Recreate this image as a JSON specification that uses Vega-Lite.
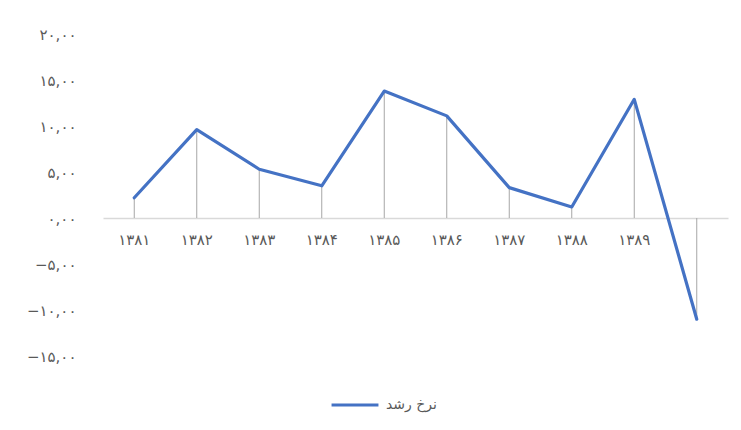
{
  "$schema": "https://vega.github.io/schema/vega-lite/v6.json",
  "autosize": {"type": "none"},
  "width": 625,
  "height": 322,
  "padding": {"left": 103, "top": 34, "right": 13, "bottom": 74},
  "background": "white",
  "config": {
    "view": {"stroke": null},
    "font": "DejaVu Sans"
  },
  "data": {
    "values": [
      {"year": "۱۳۸۱", "rate": 2.2},
      {"year": "۱۳۸۲", "rate": 9.6},
      {"year": "۱۳۸۳", "rate": 5.3},
      {"year": "۱۳۸۴", "rate": 3.5},
      {"year": "۱۳۸۵", "rate": 13.8},
      {"year": "۱۳۸۶", "rate": 11.1},
      {"year": "۱۳۸۷", "rate": 3.3},
      {"year": "۱۳۸۸", "rate": 1.2},
      {"year": "۱۳۸۹", "rate": 12.9},
      {"year": "۱۳۹۰", "rate": -11.0}
    ]
  },
  "encoding": {
    "x": {
      "field": "year",
      "type": "nominal",
      "sort": null,
      "scale": {"type": "band", "paddingInner": 0, "paddingOuter": 0},
      "axis": {
        "title": null,
        "orient": "bottom",
        "offset": -138,
        "labelAngle": 0,
        "ticks": false,
        "domainColor": "#d9d9d9",
        "domainWidth": 1.5,
        "labelColor": "#595959",
        "labelFontSize": 15,
        "labelPadding": 14,
        "labelExpr": "datum.label == '۱۳۹۰' ? '' : datum.label"
      }
    },
    "y": {
      "field": "rate",
      "type": "quantitative",
      "scale": {"domain": [-15, 20], "nice": false, "zero": false},
      "axis": {
        "title": null,
        "grid": false,
        "domain": false,
        "ticks": false,
        "values": [-15, -10, -5, 0, 5, 10, 15, 20],
        "labelColor": "#595959",
        "labelFontSize": 15,
        "labelPadding": 27,
        "labelExpr": "datum.value == 20 ? '۲۰,۰۰' : datum.value == 15 ? '۱۵,۰۰' : datum.value == 10 ? '۱۰,۰۰' : datum.value == 5 ? '۵,۰۰' : datum.value == 0 ? '۰,۰۰' : datum.value == -5 ? '−۵,۰۰' : datum.value == -10 ? '−۱۰,۰۰' : '−۱۵,۰۰'"
      }
    }
  },
  "layer": [
    {
      "mark": {"type": "rule", "color": "#a6a6a6", "strokeWidth": 1},
      "encoding": {"y2": {"datum": 0}}
    },
    {
      "mark": {"type": "line", "strokeWidth": 3.2, "strokeJoin": "round", "strokeCap": "round"},
      "encoding": {
        "color": {
          "datum": "نرخ رشد",
          "type": "nominal",
          "scale": {"range": ["#4472C4"]},
          "legend": {
            "title": null,
            "orient": "none",
            "legendX": 227,
            "legendY": 346,
            "symbolType": "stroke",
            "symbolSize": 2200,
            "symbolStrokeWidth": 3,
            "labelFontSize": 14,
            "labelColor": "#595959",
            "labelOffset": 6
          }
        }
      }
    }
  ]
}
